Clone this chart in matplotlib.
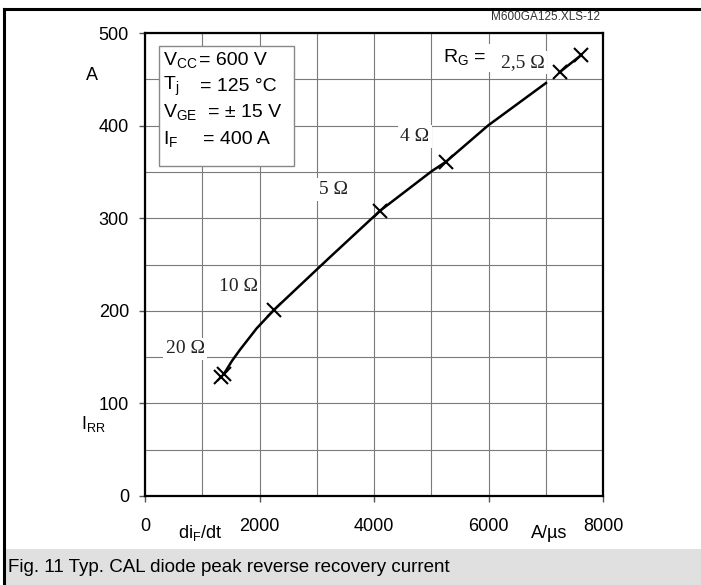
import matplotlib
matplotlib.use("Agg")
import matplotlib.pyplot as plt
from matplotlib.patches import Rectangle
from matplotlib.lines import Line2D

plt.rcParams['font.family'] = ['Liberation Sans', 'DejaVu Sans']
plt.rcParams['mathtext.fontset'] = 'custom'
plt.rcParams['mathtext.rm'] = 'Liberation Sans'

# curve: di_F/dt (A/us) vs I_RR (A)
curve_x = [1380, 1520, 1660, 1950, 2253, 3180, 4105, 5013, 5258, 5990, 7004]
curve_y = [132, 146, 158, 181, 201, 255, 308, 351, 361, 400, 446]

# measured points per gate resistor
point_x = [1327, 1380, 2253, 4105, 5258, 7249, 7616]
point_y = [128, 132, 201, 308, 361, 458, 476]

# short segment between the two 2,5 ohm points
seg_x = [7249, 7616]
seg_y = [458, 476]

rg_labels = ['20 Ω', '10 Ω', '5 Ω', '4 Ω', '2,5 Ω']
rg_label_x = [700, 1625, 3285, 4715, 6600]
rg_label_y = [159, 226, 331, 388, 468]

x_ticks = [0, 2000, 4000, 6000, 8000]
y_ticks = [0, 100, 200, 300, 400, 500]

W, H = 701, 585
fig = plt.figure(figsize=(W / 100, H / 100), dpi=100)
fig.patch.set_facecolor('white')


def fx(x):
    return x / W


def fy(y):
    return 1 - y / H


# frame of the datasheet figure
fig.add_artist(Rectangle((fx(6), 0), 1, fy(549), transform=fig.transFigure,
                         facecolor='#e0e0e0', edgecolor='none', zorder=0))
fig.add_artist(Line2D([fx(4), fx(4)], [0, fy(9)], transform=fig.transFigure,
                      color='black', lw=2.2))
fig.add_artist(Line2D([fx(4), 1], [fy(9), fy(9)], transform=fig.transFigure,
                      color='black', lw=2.2))
fig.text(fx(8), fy(567), 'Fig. 11 Typ. CAL diode peak reverse recovery current',
         fontsize=13.5, va='center', ha='left')
fig.text(fx(600), fy(17), 'M600GA125.XLS-12', fontsize=8.5, va='center',
         ha='right', color='#333333')

ax = fig.add_axes([fx(145), fy(496), (603 - 145) / W, (496 - 33) / H])
ax.set_xlim(0, 8000)
ax.set_ylim(0, 500)
ax.set_xticks(x_ticks)
ax.set_yticks(y_ticks)
ax.set_xticks(range(0, 8001, 1000), minor=True)
ax.set_yticks(range(0, 501, 50), minor=True)
ax.tick_params(which='minor', length=0)
ax.tick_params(which='major', direction='out', length=4.5, width=1,
               labelsize=13, color='#555555')
ax.tick_params(axis='x', pad=11)
ax.tick_params(axis='y', pad=7)
ax.grid(which='both', color='#7a7a7a', lw=0.8)
ax.set_axisbelow(True)
for s in ax.spines.values():
    s.set_linewidth(1.6)
    s.set_color('black')

ax.plot(curve_x, curve_y, color='black', lw=1.8, zorder=3)
ax.plot(seg_x, seg_y, color='black', lw=1.8, zorder=3)
ax.plot(point_x, point_y, ls='none', marker='x', ms=10, mew=1.5,
        color='black', zorder=4)

for lab, lx, ly in zip(rg_labels, rg_label_x, rg_label_y):
    ax.text(lx, ly, lab, family='Liberation Serif', fontsize=14,
            ha='center', va='center', color='#222222', zorder=5,
            bbox=dict(facecolor='white', edgecolor='none', pad=2))
ax.text(5590, 473, r'R$_\mathregular{G}$ =', fontsize=14, ha='center',
        va='center', zorder=5,
        bbox=dict(facecolor='white', edgecolor='none', pad=3))

# info box with test conditions
ax.add_patch(Rectangle((245, 356), 2350, 130, facecolor='white',
                       edgecolor='#888888', lw=1, zorder=4))
cond_sym = [r'V$_\mathregular{CC}$', r'T$_\mathregular{j}$',
            r'V$_\mathregular{GE}$', r'I$_\mathregular{F}$']
cond_val = ['= 600 V', '= 125 °C', '= ± 15 V', '= 400 A']
cond_eq_x = [940, 960, 1100, 1010]
cond_y = [470, 442, 414, 385]
for sym, val, ex, cy in zip(cond_sym, cond_val, cond_eq_x, cond_y):
    ax.text(310, cy, sym, fontsize=14, ha='left', va='center', zorder=5)
    ax.text(ex, cy, val, fontsize=14, ha='left', va='center', zorder=5)

# axis labels placed like the original sheet
fig.text(fx(92), fy(75), 'A', fontsize=13, ha='center', va='center')
fig.text(fx(93), fy(424), r'I$_\mathregular{RR}$', fontsize=13,
         ha='center', va='center')
fig.text(fx(200), fy(533), r'di$_\mathregular{F}$/dt', fontsize=13,
         ha='center', va='center')
fig.text(fx(549), fy(534), 'A/µs', fontsize=13, ha='center', va='center')

fig.savefig('out.png', dpi=100)
